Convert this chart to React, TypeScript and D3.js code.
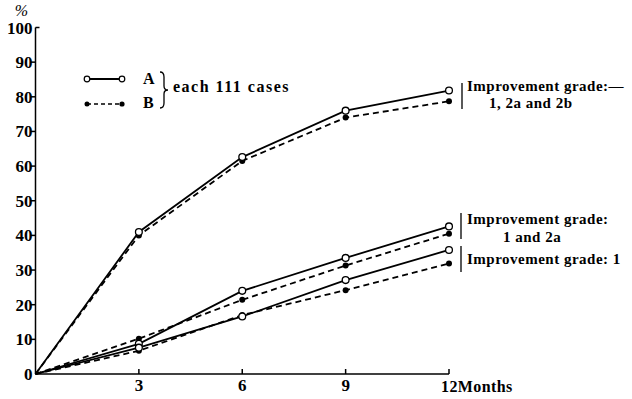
import React from "react";
import * as d3 from "d3";

// Months after start of treatment
const months = [0, 3, 6, 9, 12];

// Cumulative improvement rate (%) per group, A = solid/open, B = dashed/filled
const grade12a2bA = [0, 41, 62.6, 76, 81.8];
const grade12a2bB = [0, 40, 61.5, 74, 78.7];
const grade12aA = [0, 8.7, 24, 33.5, 42.6];
const grade12aB = [0, 10.2, 21.4, 31.3, 40.5];
const grade1A = [0, 7.6, 16.6, 27.1, 35.8];
const grade1B = [0, 6.7, 17, 24.2, 31.9];

const yTicks = [0, 10, 20, 30, 40, 50, 60, 70, 80, 90, 100];
const xTicks = [3, 6, 9, 12];

const W = 632;
const H = 399;
const FONT = "'Liberation Serif', 'DejaVu Serif', serif";

export default function App() {
  const x = d3.scaleLinear().domain([0, 12]).range([35.5, 449]);
  const y = d3.scaleLinear().domain([0, 100]).range([374, 27.5]);

  const line = d3
    .line<number>()
    .x((_, i) => x(months[i]))
    .y((d) => y(d));

  const seriesA = [grade12a2bA, grade12aA, grade1A];
  const seriesB = [grade12a2bB, grade12aB, grade1B];

  // curly brace opening to the left, drawn as a path
  const brace = (bx: number, y0: number, y1: number) => {
    const ym = (y0 + y1) / 2;
    const w = 4;
    return `M${bx - w},${y0} Q${bx},${y0} ${bx},${y0 + 5} L${bx},${ym - 4} Q${bx},${ym} ${bx + w},${ym} Q${bx},${ym} ${bx},${ym + 4} L${bx},${y1 - 5} Q${bx},${y1} ${bx - w},${y1}`;
  };

  const textStyle: React.CSSProperties = {
    fontFamily: FONT,
    fontWeight: "bold",
  };

  return (
    <svg
      width={W}
      height={H}
      style={{ position: "absolute", left: 0, top: 0, background: "#fff" }}
    >
      {/* axes */}
      <g stroke="#000" strokeWidth={1.5} fill="none">
        <line x1={x(0)} x2={x(0)} y1={y(100)} y2={y(0)} />
        <line x1={x(0)} x2={x(12)} y1={y(0)} y2={y(0)} />
        <line x1={x(0)} x2={x(0) + 4} y1={y(100)} y2={y(100)} />
        {yTicks
          .filter((t) => t > 0 && t < 100)
          .map((t) => (
            <line key={t} x1={x(0) - 5} x2={x(0)} y1={y(t)} y2={y(t)} />
          ))}
        {xTicks.map((t) => (
          <line key={t} x1={x(t)} x2={x(t)} y1={y(0)} y2={y(0) - 5} />
        ))}
      </g>

      {/* y tick labels */}
      <g style={textStyle} fontSize={17} textAnchor="end">
        {yTicks.map((t) => (
          <text key={t} x={x(0) - 3} y={y(t) + 6}>
            {t}
          </text>
        ))}
        <text x={28} y={16} fontSize={16} fontWeight="normal" fontStyle="italic">
          %
        </text>
      </g>

      {/* x tick labels */}
      <g style={textStyle} fontSize={17} textAnchor="middle">
        {xTicks.slice(0, 3).map((t) => (
          <text key={t} x={x(t)} y={391}>
            {t}
          </text>
        ))}
        <text x={441} y={392} textAnchor="start" fontSize={16} letterSpacing={0.4}>
          12Months
        </text>
      </g>

      {/* B series: dashed with filled dots */}
      {seriesB.map((s, k) => (
        <g key={"b" + k}>
          <path
            d={line(s) ?? ""}
            fill="none"
            stroke="#000"
            strokeWidth={1.8}
            strokeDasharray="6,4"
          />
          {s.slice(1).map((v, i) => (
            <circle key={i} cx={x(months[i + 1])} cy={y(v)} r={3} fill="#000" />
          ))}
        </g>
      ))}

      {/* A series: solid with open circles */}
      {seriesA.map((s, k) => (
        <g key={"a" + k}>
          <path d={line(s) ?? ""} fill="none" stroke="#000" strokeWidth={1.8} />
          {s.slice(1).map((v, i) => (
            <circle
              key={i}
              cx={x(months[i + 1])}
              cy={y(v)}
              r={3.4}
              fill="#fff"
              stroke="#000"
              strokeWidth={1.3}
            />
          ))}
        </g>
      ))}

      {/* legend */}
      <g>
        <line x1={87} x2={122} y1={79} y2={79} stroke="#000" strokeWidth={1.8} />
        <circle cx={87} cy={79} r={2.8} fill="#fff" stroke="#000" strokeWidth={1.2} />
        <circle cx={122} cy={79} r={2.8} fill="#fff" stroke="#000" strokeWidth={1.2} />
        <line
          x1={87}
          x2={122}
          y1={104}
          y2={104}
          stroke="#000"
          strokeWidth={1.6}
          strokeDasharray="4,3"
        />
        <circle cx={87} cy={104} r={2.5} fill="#000" />
        <circle cx={122} cy={104} r={2.6} fill="#000" />
        <g style={textStyle} fontSize={16}>
          <text x={143} y={84}>A</text>
          <text x={143} y={108}>B</text>
          <text x={173} y={92} letterSpacing={1.5}>
            each 111 cases
          </text>
        </g>
        <path d={brace(164, 72, 108)} fill="none" stroke="#000" strokeWidth={1.3} />
      </g>

      {/* group annotations */}
      <g stroke="#000" strokeWidth={1.3} fill="none">
        <line x1={462} x2={462} y1={83} y2={109} />
        <line x1={461} x2={461} y1={213} y2={239} />
        <line x1={461} x2={461} y1={246} y2={272} />
      </g>
      <g style={textStyle} fontSize={15} letterSpacing={0.5}>
        <text x={467} y={91}>Improvement grade:—</text>
        <text x={489} y={108}>1, 2a and 2b</text>
        <text x={467} y={224}>Improvement grade:</text>
        <text x={503} y={242}>1 and 2a</text>
        <text x={467} y={264}>Improvement grade: 1</text>
      </g>
    </svg>
  );
}
